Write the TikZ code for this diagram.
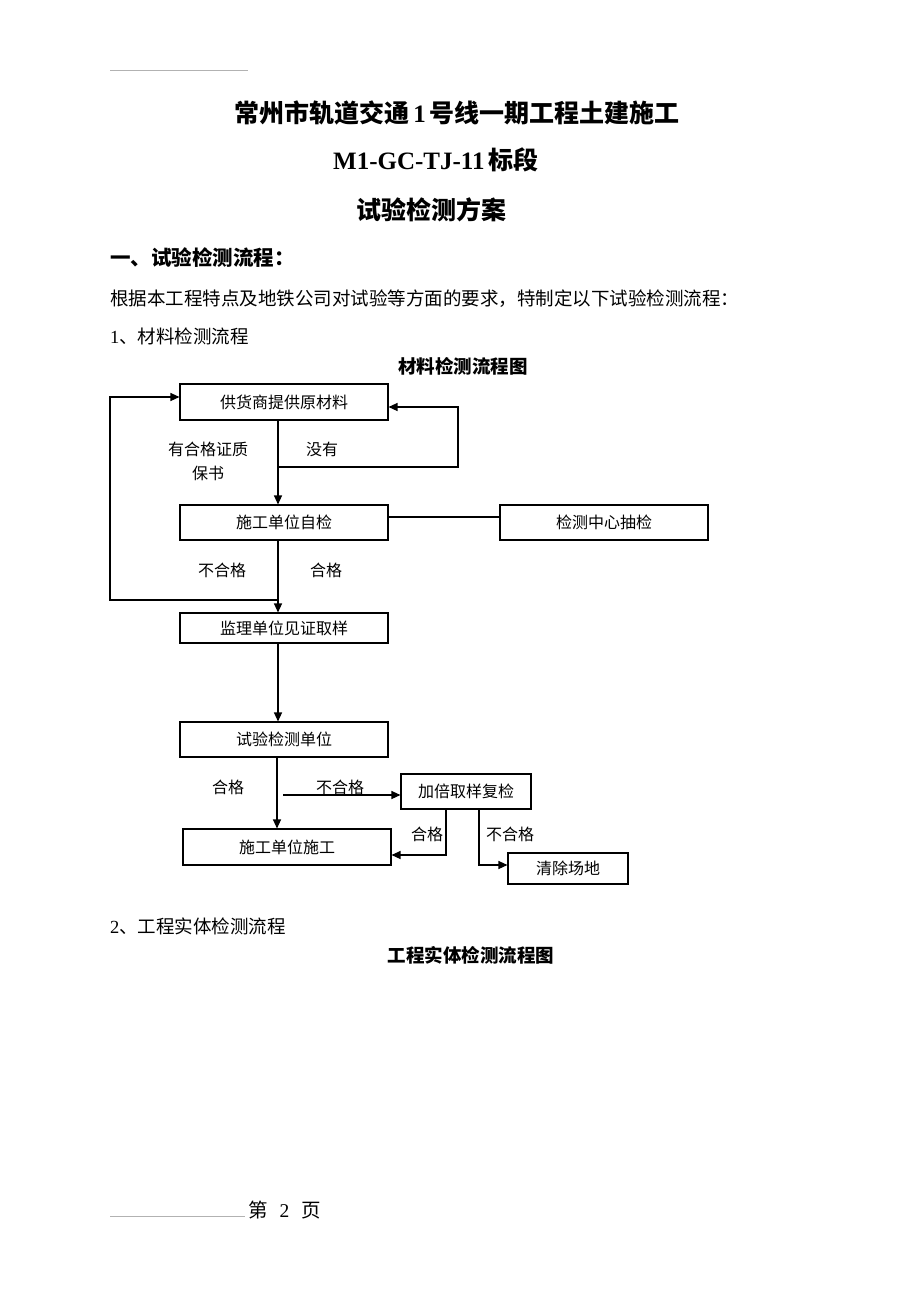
\documentclass[tikz,border=0pt]{standalone}
\usepackage{fontspec}
\setmainfont{Liberation Serif}
\newfontfamily\cjk{Noto Sans CJK SC}
\usetikzlibrary{arrows.meta}
\tikzset{
  box/.style={draw, line width=1.1pt, inner sep=0pt, font=\cjk\fontsize{16}{16}\selectfont},
  lbl/.style={inner sep=0pt, font=\cjk\fontsize{16}{16}\selectfont},
  arr/.style={line width=1.2pt, -{Triangle[length=9pt,width=8pt]}},
  ln/.style={line width=1.1pt},
  txt/.style={inner sep=0pt, anchor=west, font=\cjk\fontsize{18.5}{18.5}\selectfont},
  ttl/.style={inner sep=0pt, font=\bfseries\fontsize{25}{25}\selectfont},
  ctl/.style={inner sep=0pt, font=\cjk\bfseries\fontsize{18.5}{18.5}\selectfont},
}
\begin{document}
\begin{tikzpicture}[x=1pt,y=-1pt]
\useasboundingbox (0,0) rectangle (920,1302);
\fill[white] (0,0) rectangle (920,1302);
% header line
\draw[gray!60, line width=0.6pt] (110,70) -- (248,70);
% titles
\node[ttl] (t1) at (457,113) {{\cjk 常州市轨道交通}\,1\,{\cjk 号线一期工程土建施工}};
\node[ttl] (t2) at (436,160) {M1-GC-TJ-11\,{\cjk 标段}};
\node[ttl] (t3) at (431,210) {{\cjk 试验检测方案}};
\node[txt, font=\cjk\bfseries\fontsize{20.5}{20.5}\selectfont] (h1) at (110,258) {一、试验检测流程：};
\node[txt] (p1) at (110,299) {根据本工程特点及地铁公司对试验等方面的要求，特制定以下试验检测流程：};
\node[txt] (p2) at (110,336) {{\rmfamily 1}、材料检测流程};
\node[ctl] (c1) at (463,366) {材料检测流程图};
% boxes
\node[box, minimum width=208pt, minimum height=36pt] (b1) at (284,402) {供货商提供原材料};
\node[box, minimum width=208pt, minimum height=35pt] (b2) at (284,522.5) {施工单位自检};
\node[box, minimum width=208pt, minimum height=35pt] (b3) at (604,522.5) {检测中心抽检};
\node[box, minimum width=208pt, minimum height=30pt] (b4) at (284,628) {监理单位见证取样};
\node[box, minimum width=208pt, minimum height=35pt] (b5) at (284,739.5) {试验检测单位};
\node[box, minimum width=208pt, minimum height=36pt] (b6) at (287,847) {施工单位施工};
\node[box, minimum width=130pt, minimum height=35pt] (b7) at (466,791.5) {加倍取样复检};
\node[box, minimum width=120pt, minimum height=31pt] (b8) at (568,868.5) {清除场地};
% helper coordinates
\coordinate (xm) at (278,0);
\coordinate (xm2) at (277,0);
\coordinate (j1) at (278,600);
\coordinate (l1) at (110,600);
\coordinate (l2) at (110,397);
\coordinate (j2) at (278,467);
\coordinate (r1) at (458,467);
\coordinate (r2) at (458,407);
\coordinate (s1) at (283,795);
\coordinate (k1) at (446,855);
\coordinate (k2) at (479,865);
% connectors
\draw[arr] (b1.south -| xm) -- (b2.north -| xm);
\draw[arr] (j2) -- (r1) -- (r2) -- (b1.east |- r2);
\draw[ln] (b2.east |- 0,517) -- (b3.west |- 0,517);
\draw[arr] (b2.south -| xm) -- (b4.north -| xm);
\draw[arr] (j1) -- (l1) -- (l2) -- (b1.west |- l2);
\draw[arr] (b4.south -| xm) -- (b5.north -| xm);
\draw[arr] (b5.south -| xm2) -- (b6.north -| xm2);
\draw[arr] (s1) -- (b7.west |- s1);
\draw[arr] (b7.south -| k1) -- (k1) -- (b6.east |- k1);
\draw[arr] (b7.south -| k2) -- (k2) -- (b8.west |- k2);
% labels
\node[lbl] (la1) at (208,449) {有合格证质};
\node[lbl] (la2) at (208,473) {保书};
\node[lbl] (la3) at (322,449) {没有};
\node[lbl] (la4) at (222,570) {不合格};
\node[lbl] (la5) at (326,570) {合格};
\node[lbl] (la6) at (228,787) {合格};
\node[lbl] (la7) at (340,787) {不合格};
\node[lbl] (la8) at (427,834) {合格};
\node[lbl] (la9) at (510,834) {不合格};
% section 2
\node[txt] (p3) at (110,926) {{\rmfamily 2}、工程实体检测流程};
\node[ctl] (c2) at (471,955) {工程实体检测流程图};
% footer
\draw[gray!60, line width=0.6pt] (110,1216) -- (245,1216);
\node[inner sep=0pt, anchor=west, font=\fontsize{19.5}{19.5}\selectfont] (ft) at (248,1210) {{\cjk 第}\hspace{12pt}2\hspace{12pt}{\cjk 页}};
\end{tikzpicture}
\end{document}
